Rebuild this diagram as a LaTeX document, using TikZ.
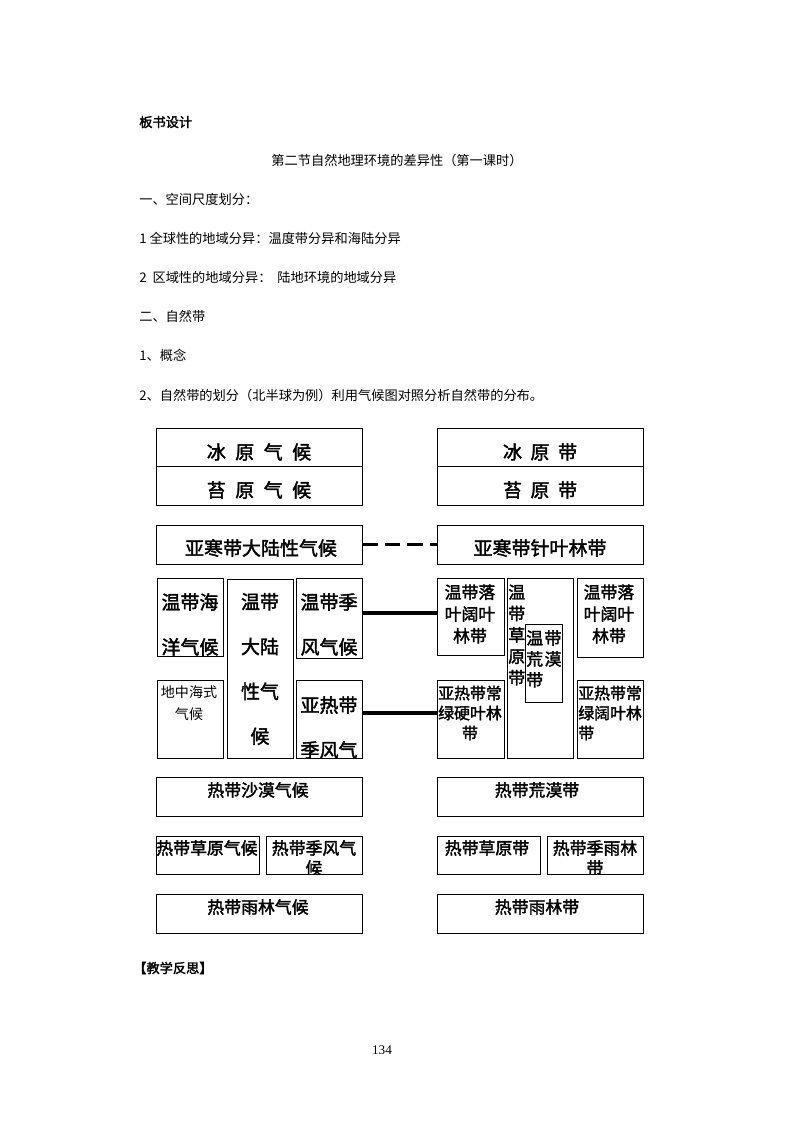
\documentclass[tikz,border=0pt]{standalone}
\usepackage{fontspec}
\newfontfamily\cjk{Noto Sans CJK SC}[AutoFakeBold=2]
\newfontfamily\numfont{Liberation Serif}
\usetikzlibrary{fit}

\begin{document}
\begin{tikzpicture}[x=0.025cm, y=-0.025cm,
    box/.style={draw, line width=0.6pt, inner sep=0pt},
    bodytxt/.style={anchor=west, inner sep=0pt, font=\cjk\fontsize{9.4}{11}\selectfont},
    bigtxt/.style={inner sep=0pt, align=center, font=\cjk\bfseries\fontsize{13.5}{31.9}\selectfont},
    midtxt/.style={inner sep=0pt, align=center, font=\cjk\bfseries\fontsize{12}{15.5}\selectfont},
    smltxt/.style={inner sep=0pt, align=center, font=\cjk\bfseries\fontsize{11.3}{14.2}\selectfont},
    solidlink/.style={line width=2.2pt},
    dashlink/.style={line width=2.2pt, dash pattern=on 11pt off 5pt}]
    \useasboundingbox (0,0) rectangle (800,1130);

    % 正文
    \node[bodytxt, font=\cjk\bfseries\fontsize{9.4}{11}\selectfont] (bsjs) at (139,122) {板书设计};
    \node[bodytxt, anchor=center] (title) at (397,160) {第二节自然地理环境的差异性（第一课时）};
    \node[bodytxt] (l1) at (139,199) {一、空间尺度划分：};
    \node[bodytxt] (l2) at (139,238) {1 全球性的地域分异：温度带分异和海陆分异};
    \node[bodytxt] (l3) at (139,277) {2\ \ 区域性的地域分异：\ \ 陆地环境的地域分异};
    \node[bodytxt] (l4) at (139,316) {二、自然带};
    \node[bodytxt] (l5) at (139,355) {1、概念};
    \node[bodytxt] (l6) at (139,395) {2、自然带的划分（北半球为例）利用气候图对照分析自然带的分布。};

    % 气候
    \node[box, fit={(156,428) (362,466)}] (byqh) {};
    \node[box, fit={(156,466) (362,505)}] (tyqh) {};
    \node[box, fit={(156,525) (362,564)}] (yhd) {};
    \node[box, fit={(157,578) (223,656)}] (wdhy) {};
    \node[box, fit={(227,579) (293,758)}] (wddl) {};
    \node[box, fit={(296,578) (362,658)}] (wdjf) {};
    \node[box, fit={(157,680) (223,758)}] (dzh) {};
    \node[box, fit={(296,680) (362,758)}] (yrjf) {};
    \node[box, fit={(156,777) (362,816)}] (rdsm) {};
    \node[box, fit={(156,836) (259,874)}] (rdcy) {};
    \node[box, fit={(266,836) (362,874)}] (rdjf) {};
    \node[box, fit={(156,894) (362,933)}] (rdyl) {};

    \node[bigtxt] (t-byqh) at (259,452) {冰\hspace{.5em}原\hspace{.5em}气\hspace{.5em}候};
    \node[bigtxt] (t-tyqh) at (259,490) {苔\hspace{.5em}原\hspace{.5em}气\hspace{.5em}候};
    \node[bigtxt] (t-yhd) at (261,548) {亚寒带大陆性气候};
    \node[bigtxt] (t-wdhy) at (190,624.5) {温带海\\洋气候};
    \node[bigtxt] (t-wddl) at (260,669) {温带\\大陆\\性气\\候};
    \node[bigtxt] (t-wdjf) at (329,624.5) {温带季\\风气候};
    \node[inner sep=0pt, align=center, font=\cjk\fontsize{10}{15.6}\selectfont] (t-dzh) at (189,703) {地中海式\\气候};
    \node[bigtxt] (t-yrjf) at (329,727.5) {亚热带\\季风气};
    \node[midtxt] (t-rdsm) at (258,790) {热带沙漠气候};
    \node[midtxt] (t-rdcy) at (207,848) {热带草原气候};
    \begin{scope}
        \clip (rdjf.south west) rectangle (rdjf.north east);
        \node[midtxt, font=\cjk\bfseries\fontsize{12}{14.2}\selectfont] (t-rdjf) at (314,858) {热带季风气\\候};
    \end{scope}
    \node[midtxt] (t-rdyl) at (258,907) {热带雨林气候};

    % 自然带
    \node[box, fit={(437,428) (643,466)}] (byd) {};
    \node[box, fit={(437,466) (643,505)}] (tyd) {};
    \node[box, fit={(437,525) (643,564)}] (zyl) {};
    \node[box, fit={(437,578) (504,655)}] (lyl1) {};
    \node[box, fit={(507,578) (573,758)}] (cyd) {};
    \node[box, fit={(525,624) (562,702)}] (hmd) {};
    \node[box, fit={(577,578) (643,657)}] (lyl2) {};
    \node[box, fit={(437,680) (504,758)}] (ylh1) {};
    \node[box, fit={(577,680) (643,758)}] (ylh2) {};
    \node[box, fit={(437,777) (643,816)}] (rdhm) {};
    \node[box, fit={(437,836) (540,874)}] (rdcyd) {};
    \node[box, fit={(547,836) (643,874)}] (rdjyl) {};
    \node[box, fit={(437,894) (643,933)}] (rdyld) {};

    \node[bigtxt] (t-byd) at (540,452) {冰\hspace{.45em}原\hspace{.45em}带};
    \node[bigtxt] (t-tyd) at (540,490) {苔\hspace{.45em}原\hspace{.45em}带};
    \node[bigtxt] (t-zyl) at (540,548) {亚寒带针叶林带};
    \node[midtxt] (t-lyl1) at (470,614) {温带落\\叶阔叶\\林带};
    \node[midtxt, align=left, anchor=west, font=\cjk\bfseries\fontsize{12}{15.2}\selectfont] (t-cyd) at (508,635) {温\\带\\草\\原\\带};
    \node[midtxt, align=left, anchor=west, font=\cjk\bfseries\fontsize{12}{14.9}\selectfont] (t-hmd) at (526,659) {温\hspace{1pt}带\\荒\hspace{1pt}漠\\带};
    \node[midtxt] (t-lyl2) at (609,614) {温带落\\叶阔叶\\林带};
    \node[smltxt] (t-ylh1) at (470,713) {亚热带常\\绿硬叶林\\带};
    \node[smltxt, align=left, anchor=west] (t-ylh2) at (578,713) {亚热带常\\绿阔叶林\\带};
    \node[midtxt] (t-rdhm) at (537,790) {热带荒漠带};
    \node[midtxt] (t-rdcyd) at (487,848) {热带草原带};
    \begin{scope}
        \clip (rdjyl.south west) rectangle (rdjyl.north east);
        \node[midtxt, font=\cjk\bfseries\fontsize{12}{14.2}\selectfont] (t-rdjyl) at (595,858) {热带季雨林\\带};
    \end{scope}
    \node[midtxt] (t-rdyld) at (537,907) {热带雨林带};

    % 连线
    \draw[dashlink] (yhd) -- (zyl);
    \draw[solidlink] (wdjf.east |- 0,613) -- (lyl1.west |- 0,613);
    \draw[solidlink] (yrjf.east |- 0,713) -- (ylh1.west |- 0,713);

    % 反思
    \node[bodytxt, font=\cjk\bfseries\fontsize{9.4}{11}\selectfont] (jxfs) at (133,968) {【教学反思】};
    \node[inner sep=0pt, font=\numfont\fontsize{9.4}{11}\selectfont] (pg) at (382,1050) {134};
\end{tikzpicture}
\end{document}
